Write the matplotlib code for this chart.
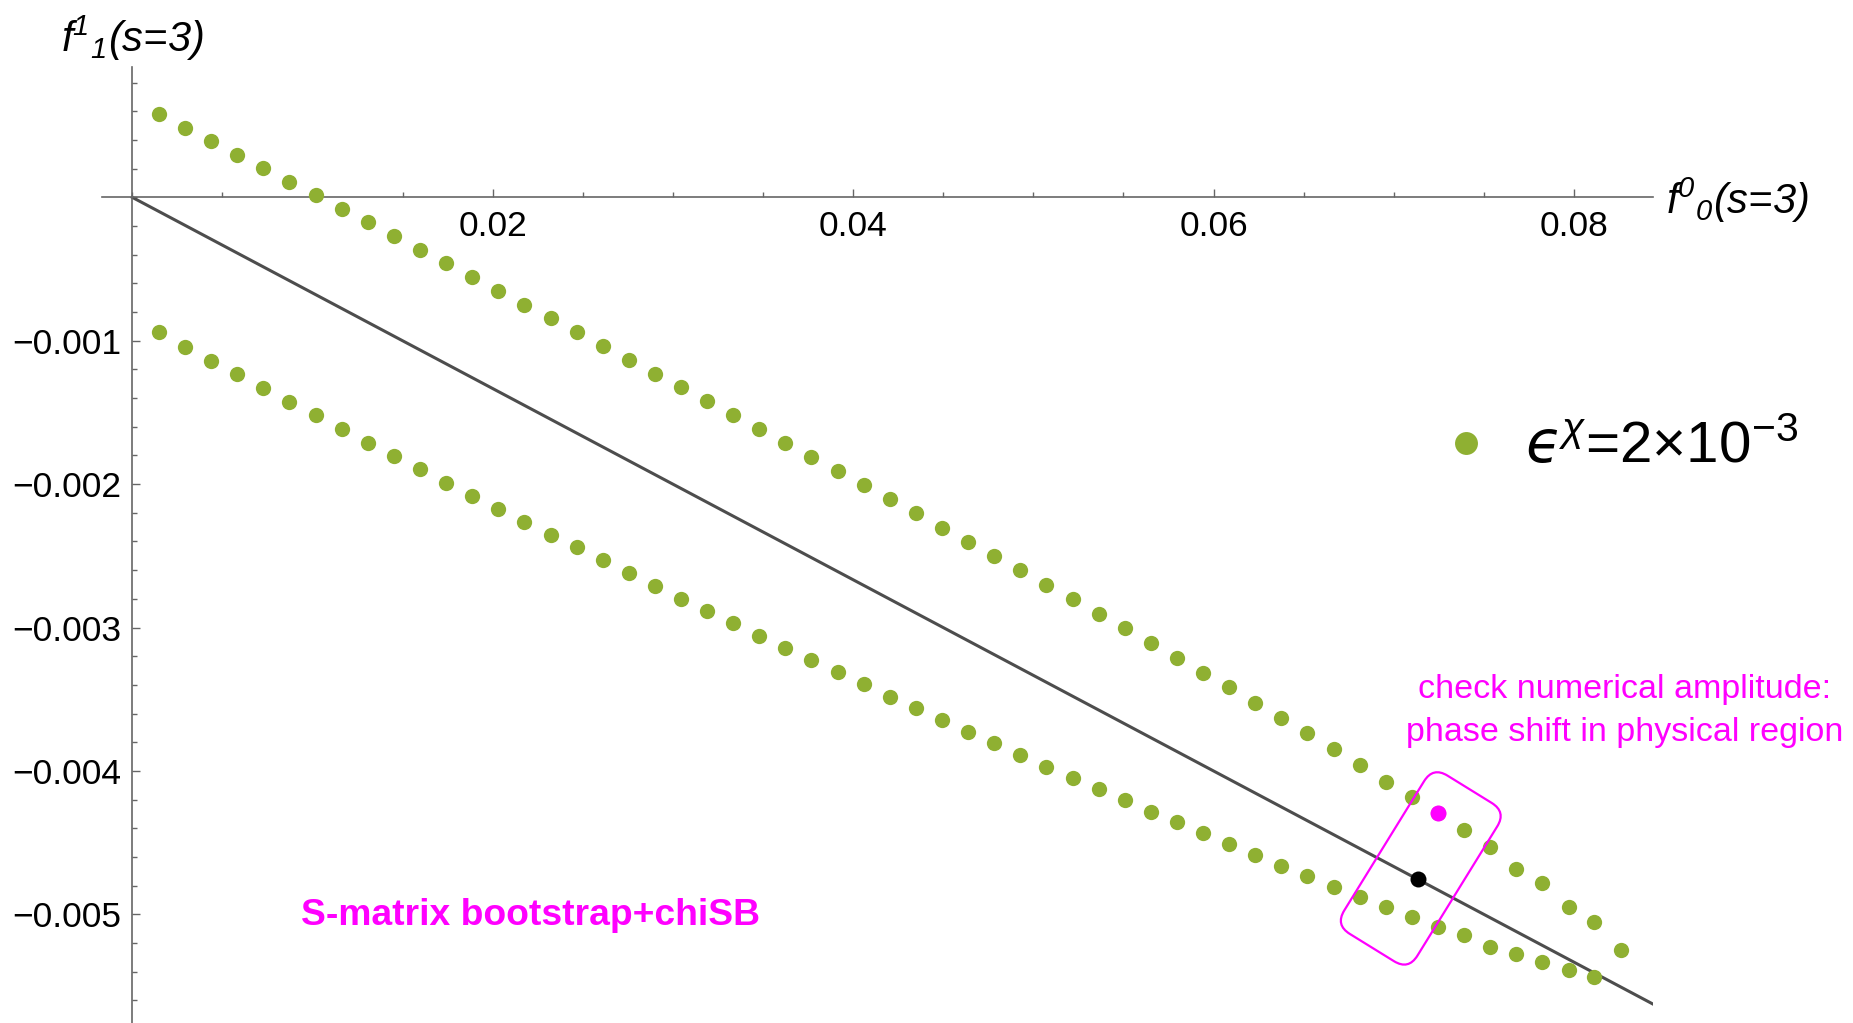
import matplotlib
matplotlib.use("Agg")
import matplotlib.pyplot as plt
from matplotlib.patches import FancyBboxPatch
from matplotlib.transforms import Affine2D, ScaledTranslation
from matplotlib.ticker import MultipleLocator, FixedLocator

plt.rcParams['font.family'] = ['Liberation Sans', 'DejaVu Sans']
plt.rcParams['mathtext.fontset'] = 'custom'
plt.rcParams['mathtext.rm'] = 'Liberation Sans'
plt.rcParams['mathtext.it'] = 'Liberation Sans:italic'
plt.rcParams['mathtext.bf'] = 'Liberation Sans:bold'
plt.rcParams['mathtext.sf'] = 'Liberation Sans:italic'
plt.rcParams['mathtext.cal'] = 'DejaVu Sans:italic'

GREEN = "#8FB032"
MAGENTA = "#FF00FF"

# f^0_0(s=3) grid (shared by both branches)
f00 = [0.00148, 0.00293, 0.00438, 0.00583, 0.00728, 0.00872, 0.01017, 0.01162,
       0.01307, 0.01452, 0.01597, 0.01741, 0.01886, 0.02031, 0.02176, 0.02321,
       0.02466, 0.02610, 0.02755, 0.02900, 0.03045, 0.03190, 0.03335, 0.03480,
       0.03624, 0.03769, 0.03914, 0.04059, 0.04204, 0.04349, 0.04493, 0.04638,
       0.04783, 0.04928, 0.05073, 0.05218, 0.05362, 0.05507, 0.05652, 0.05797,
       0.05942, 0.06087, 0.06232, 0.06376, 0.06521, 0.06666, 0.06811, 0.06956,
       0.07101, 0.07245, 0.07390, 0.07535, 0.07680, 0.07825, 0.07970, 0.08114,
       0.08259]

# f^1_1(s=3), upper boundary
f11_upper = [0.000579, 0.000485, 0.000390, 0.000297, 0.000204, 0.000109, 0.000016,
             -0.000079, -0.000174, -0.000268, -0.000365, -0.000458, -0.000556,
             -0.000651, -0.000749, -0.000844, -0.000939, -0.001037, -0.001135,
             -0.001230, -0.001325, -0.001423, -0.001520, -0.001618, -0.001715,
             -0.001811, -0.001911, -0.002008, -0.002106, -0.002204, -0.002304,
             -0.002404, -0.002501, -0.002601, -0.002702, -0.002803, -0.002904,
             -0.003006, -0.003108, -0.003211, -0.003315, -0.003417, -0.003524,
             -0.003631, -0.003738, -0.003845, -0.003957, -0.004080, -0.004180,
             -0.004294, -0.004412, -0.004533, -0.004686, -0.004780, -0.004951,
             -0.005054, -0.005251]

# f^1_1(s=3), lower boundary (one point fewer)
f11_lower = [-0.000942, -0.001042, -0.001139, -0.001234, -0.001332, -0.001427,
             -0.001521, -0.001616, -0.001711, -0.001804, -0.001897, -0.001990,
             -0.002081, -0.002174, -0.002264, -0.002352, -0.002437, -0.002530,
             -0.002620, -0.002711, -0.002799, -0.002885, -0.002971, -0.003057,
             -0.003143, -0.003229, -0.003312, -0.003396, -0.003483, -0.003563,
             -0.003645, -0.003727, -0.003808, -0.003889, -0.003971, -0.004050,
             -0.004124, -0.004203, -0.004285, -0.004356, -0.004435, -0.004510,
             -0.004587, -0.004661, -0.004735, -0.004807, -0.004879, -0.004951,
             -0.005021, -0.005088, -0.005146, -0.005228, -0.005279, -0.005335,
             -0.005391, -0.005435]

# straight reference line
line_x = [0.0, 0.0844]
line_y = [0.0, -0.005627]

# highlighted points
phys_pt = (0.07245, -0.004294)
chisb_pt = (0.07136, -0.004752)

fig = plt.figure(figsize=(18.53, 10.23), dpi=100)
ax = fig.add_axes([0.0548, 0.0, 0.8371, 0.9348])

ax.plot(line_x, line_y, color="#4d4d4d", lw=2.2, zorder=2)
ax.plot(f00, f11_upper, 'o', ls='none', color=GREEN, ms=11, mec='none',
        zorder=3, label='$\\mathcal{\u03f5}^{\\mathit{\\chi}}$=2×10$^{\\mathrm{-3}}$')
ax.plot(f00[:len(f11_lower)], f11_lower, 'o', ls='none', color=GREEN, ms=11,
        mec='none', zorder=3)
ax.plot(*phys_pt, 'o', color=MAGENTA, ms=11.5, mec='none', zorder=4)
ax.plot(*chisb_pt, 'o', color='black', ms=11.5, mec='none', zorder=4)

# rotated rounded box around the two points
box_w, box_h = 1.86, 0.86
tr = (Affine2D().rotate_deg(58.3) + fig.dpi_scale_trans
      + ScaledTranslation(0.0715, -0.00468, ax.transData))
box = FancyBboxPatch((-box_w / 2, -box_h / 2), box_w, box_h,
                     boxstyle='round,pad=0,rounding_size=0.17',
                     transform=tr, fill=False, ec=MAGENTA, lw=1.6, zorder=5)
ax.add_artist(box)

ax.set_xlim(-0.001704, 0.08437)
ax.set_ylim(-0.005758, 0.000911)

# Mathematica-like axes through the origin
for s in ('top', 'right'):
    ax.spines[s].set_visible(False)
for s in ('left', 'bottom'):
    ax.spines[s].set_position(('data', 0))
    ax.spines[s].set_color('#666666')
    ax.spines[s].set_linewidth(1.2)

ax.xaxis.set_major_locator(FixedLocator([0.02, 0.04, 0.06, 0.08]))
ax.xaxis.set_minor_locator(MultipleLocator(0.005))
ax.yaxis.set_major_locator(FixedLocator([-0.001, -0.002, -0.003, -0.004, -0.005]))
ax.yaxis.set_minor_locator(MultipleLocator(0.0002))
ax.set_xticklabels(['0.02', '0.04', '0.06', '0.08'])
ax.set_yticklabels(['\u22120.001', '\u22120.002', '\u22120.003', '\u22120.004', '\u22120.005'])
ax.tick_params(which='both', direction='in', color='#666666', width=1.0,
               labelsize=25.5, labelcolor='black')
ax.tick_params(which='major', length=6)
ax.tick_params(which='minor', length=3.5)
ax.tick_params(axis='x', pad=9)
ax.tick_params(axis='y', pad=8)

fig.text(61 / 1853, 1 - 38 / 1023, r'$\mathsf{f}^{\mathsf{1}}{}_{\mathsf{1}}$(s=3)',
         fontsize=30, style='italic', ha='left', va='center')
fig.text(1666 / 1853, 1 - 200 / 1023, r'$\mathsf{f}^{\mathsf{0}}{}_{\mathsf{0}}$(s=3)',
         fontsize=30, style='italic', ha='left', va='center')

ax.text(0.08281, -0.003585, 'check numerical amplitude:\nphase shift in physical region',
        color=MAGENTA, fontsize=24.5, ha='center', va='center', linespacing=1.5)
ax.text(0.00938, -0.005075, 'S-matrix bootstrap+chiSB', color=MAGENTA,
        fontsize=26.8, fontweight='bold', ha='left', va='baseline')

ax.legend(loc='center left', bbox_to_anchor=(0.7834, 0.562),
          bbox_transform=fig.transFigure, frameon=False, fontsize=42,
          handlelength=0.5, handletextpad=0.75, borderpad=0, borderaxespad=0,
          markerscale=1.5)

fig.savefig('out.png', dpi=100)
